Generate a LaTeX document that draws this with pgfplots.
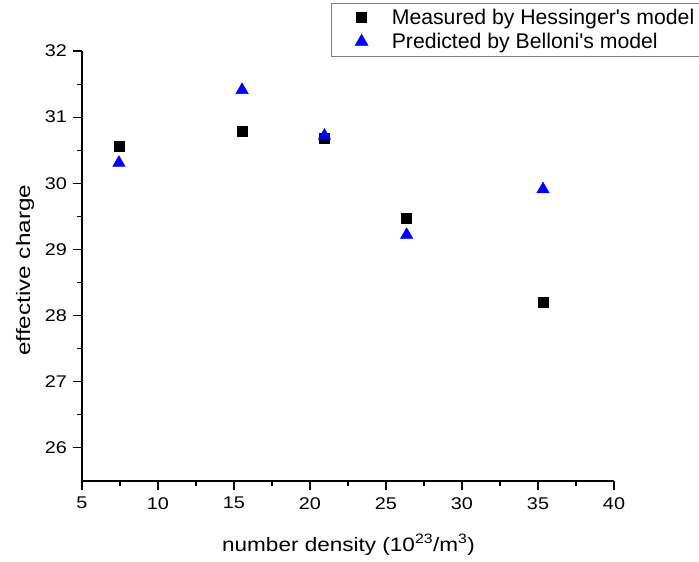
\documentclass[border=0pt]{standalone}
\usepackage{fontspec}
\setmainfont{Liberation Sans}
\newfontfamily\tickfont[FakeStretch=1.17]{Liberation Sans}
\newfontfamily\xlabfont[FakeStretch=1.16]{Liberation Sans}
\newfontfamily\ylabfont[FakeStretch=1.25]{Liberation Sans}
\usepackage{pgfplots}
\pgfplotsset{compat=1.18}
\definecolor{myblue}{RGB}{0,0,255}
\begin{document}
\begin{tikzpicture}
\path[use as bounding box] (-82bp,-81bp) rectangle (617bp,481bp);
\begin{axis}[
  scale only axis,
  width=532bp, height=430bp,
  at={(0,0)}, anchor=south west,
  xmin=5, xmax=40, ymin=25.5, ymax=32,
  axis x line*=bottom, axis y line*=left,
  axis line style={line width=1.1bp, black, -},
  xtick={5,10,...,40}, ytick={26,27,...,32},
  minor x tick num=1, minor y tick num=1,
  tick align=outside,
  major tick length=9bp, minor tick length=5bp,
  every tick/.style={line width=1.1bp, black},
  /pgf/number format/assume math mode=true,
  ticklabel style={font=\tickfont\fontsize{17}{20}\selectfont},
  xticklabel style={inner sep=2bp, yshift=-5bp},
  yticklabel style={inner sep=2bp, xshift=-4bp},
  xlabel={number density (10\textsuperscript{23}/m\textsuperscript{3})},
  ylabel={effective charge},
  every axis x label/.style={at={(axis description cs:0.501,-0.163)}, anchor=base, font=\xlabfont\fontsize{19.5}{22}\selectfont},
  every axis y label/.style={at={(axis description cs:-0.107,0.49)}, anchor=center, rotate=90, font=\ylabfont\fontsize{19.5}{22}\selectfont},
  legend style={at={(axis description cs:0.468,1.1116)}, anchor=north west,
    draw=gray, line width=0.8bp, fill=white, font=\fontsize{21.3}{24}\selectfont,
    inner xsep=24bp, inner ysep=4bp, row sep=3bp,
    /tikz/every odd column/.append style={column sep=22bp}},
  legend cell align=left,
  clip=false,
]
\addplot[only marks, mark=square*, mark size=5bp, black, mark options={draw=black, fill=black}]
  coordinates {(7.43,30.56) (15.53,30.79) (20.95,30.68) (26.36,29.48) (35.33,28.20)};
\addlegendentry{Measured by Hessinger\textquotesingle s model}
\addplot[only marks, mark=triangle*, mark size=7.2bp, myblue, mark options={draw=myblue, fill=myblue}]
  coordinates {(7.43,30.31) (15.53,31.41) (20.95,30.72) (26.36,29.22) (35.33,29.91)};
\addlegendentry{Predicted by Belloni\textquotesingle s model}
\end{axis}
\end{tikzpicture}
\end{document}
